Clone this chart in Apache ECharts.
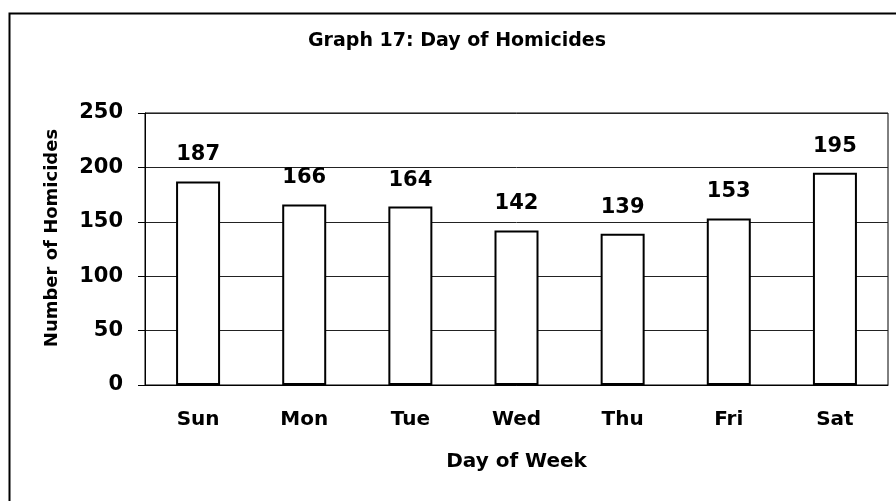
<!DOCTYPE html>
<html>
<head>
<meta charset="utf-8">
<script src="https://cdn.jsdelivr.net/npm/echarts@6/dist/echarts.min.js"></script>
<style>html,body{margin:0;padding:0;background:#fff;}#chart{width:896px;height:501px;}</style>
</head>
<body>
<div id="chart"></div>
<script>
const categories = ['Sun', 'Mon', 'Tue', 'Wed', 'Thu', 'Fri', 'Sat'];
const homicides = [187, 166, 164, 142, 139, 153, 195];
const yTicks = [0, 50, 100, 150, 200, 250];
const titleText = 'Graph 17: Day of Homicides';
const xName = 'Day of Week';
const yName = 'Number of Homicides';

const FONT = '"DejaVu Sans", "Liberation Sans", Arial, sans-serif';
const chart = echarts.init(document.getElementById('chart'), null, {renderer: 'canvas'});
chart.setOption({
  backgroundColor: '#ffffff',
  animation: false,
  title: {
    text: titleText,
    left: 457,
    top: 32,
    padding: 0,
    textAlign: 'center',
    textStyle: {fontFamily: FONT, fontWeight: 'bold', fontSize: 19, color: '#000'}
  },
  graphic: [{
    type: 'rect',
    shape: {x: 9.5, y: 13.5, width: 1000, height: 600},
    style: {fill: 'none', stroke: '#000', lineWidth: 2},
    silent: true
  }],
  grid: {
    left: 145, top: 113, right: 8, bottom: 116,
    show: true, borderColor: '#000', borderWidth: 1, backgroundColor: 'transparent'
  },
  xAxis: {
    type: 'category',
    data: categories,
    name: xName,
    nameLocation: 'middle',
    nameGap: 67,
    nameTextStyle: {fontFamily: FONT, fontWeight: 'bold', fontSize: 20, color: '#000'},
    axisLine: {lineStyle: {color: '#000', width: 1}},
    axisTick: {show: false},
    axisLabel: {margin: 25, fontFamily: FONT, fontWeight: 'bold', fontSize: 20, color: '#000'}
  },
  yAxis: {
    type: 'value',
    min: yTicks[0],
    max: yTicks[yTicks.length - 1],
    interval: yTicks[1] - yTicks[0],
    name: yName,
    nameLocation: 'middle',
    nameGap: 84,
    nameRotate: 90,
    nameTextStyle: {fontFamily: FONT, fontWeight: 'bold', fontSize: 18, color: '#000', padding: [0, 0, 0, 22]},
    axisLine: {show: true, lineStyle: {color: '#000', width: 1}},
    axisTick: {show: true, length: 7, lineStyle: {color: '#000'}},
    axisLabel: {margin: 22, fontFamily: FONT, fontWeight: 'bold', fontSize: 21, color: '#000'},
    splitLine: {show: true, lineStyle: {color: '#222', width: 1}}
  },
  series: [{
    type: 'bar',
    data: homicides,
    barWidth: 44,
    itemStyle: {color: '#fff', borderColor: '#000', borderWidth: 2},
    label: {
      show: true, position: 'top', distance: 16,
      fontFamily: FONT, fontWeight: 'bold', fontSize: 21, color: '#000'
    }
  }]
});
</script>
</body>
</html>
